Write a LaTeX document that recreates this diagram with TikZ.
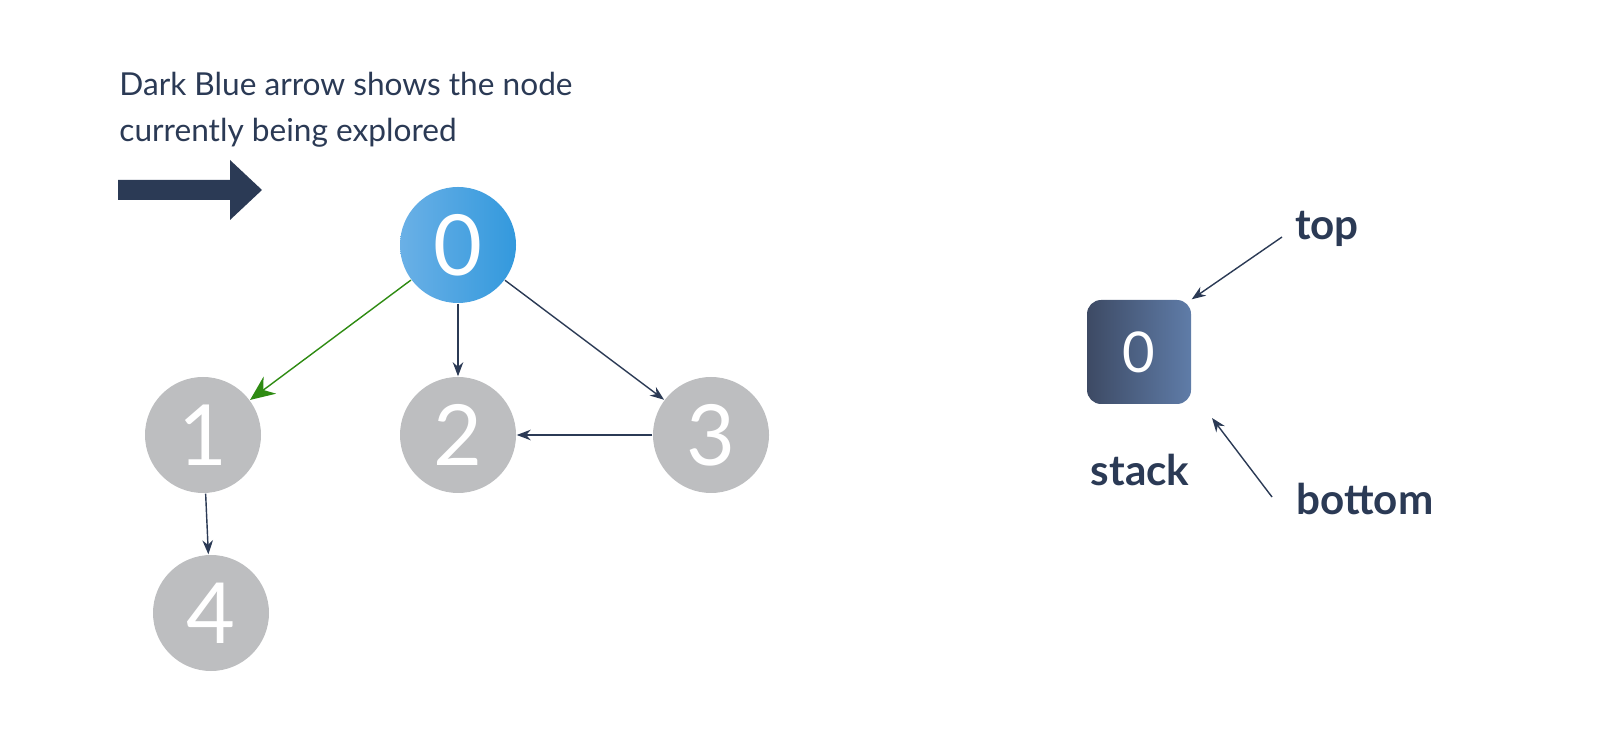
\documentclass[tikz,border=0pt]{standalone}
\usepackage{fontspec}
\setmainfont{Lato}
\usetikzlibrary{positioning,arrows.meta}
\definecolor{navy}{HTML}{2B3A55}
\definecolor{gnode}{HTML}{BDBEC0}
\definecolor{bluea}{HTML}{6AB0E6}
\definecolor{blueb}{HTML}{3399DD}
\definecolor{boxa}{HTML}{3D4A64}
\definecolor{boxb}{HTML}{5F7CA8}
\definecolor{dg}{HTML}{2E8B12}
\tikzset{
  vert/.style={circle,minimum size=1.16cm,inner sep=0pt,text=white,font=\fontsize{24}{24}\selectfont},
  grayvert/.style={vert,fill=gnode},
  edge/.style={-{Stealth[length=4pt,width=3pt]},navy,line width=0.4pt},
  lbl/.style={text=navy,font=\fontsize{12}{14}\selectfont\bfseries}
}
\begin{document}
\begin{tikzpicture}
\useasboundingbox (0,0) rectangle (16,7.42);
% caption and marker
\node[anchor=north west,align=left,text=navy,font=\fontsize{9}{13}\selectfont] (cap) at (1.07,6.82)
  {Dark Blue arrow shows the node\\currently being explored};
\fill[navy] (1.18,5.42) -- (2.3,5.42) -- (2.3,5.82) -- (2.62,5.52) -- (2.3,5.22) -- (2.3,5.62) -- (1.18,5.62) -- cycle;
% graph
\node[vert,left color=bluea,right color=blueb] (n0) at (4.58,4.97) {0};
\node[grayvert] (n1) at (2.03,3.07) {1};
\node[grayvert] (n2) at (4.58,3.07) {2};
\node[grayvert] (n3) at (7.11,3.07) {3};
\node[grayvert] (n4) at (2.11,1.29) {4};
\draw[edge,dg,-{Stealth[length=7pt,width=6pt]}] (n0) -- (n1);
\draw[edge] (n0) -- (n2);
\draw[edge] (n0) -- (n3);
\draw[edge] (n3) -- (n2);
\draw[edge] (n1) -- (n4);
% stack
\node[rounded corners=4pt,minimum size=1.04cm,left color=boxa,right color=boxb,text=white,
  font=\fontsize{16}{16}\selectfont] (s0) at (11.39,3.9) {0};
\node[lbl] (stk) at (11.4,2.72) {stack};
\node[lbl] (top) at (13.27,5.13) {top};
\node[lbl] (bot) at (13.65,2.43) {bottom};
\coordinate (topend) at (12.82,5.05);
\coordinate (botend) at (12.72,2.45);
\coordinate (botpt) at (12.12,3.24);
\draw[edge] (topend) -- (s0.north east);
\draw[edge] (botend) -- (botpt);
\end{tikzpicture}
\end{document}
